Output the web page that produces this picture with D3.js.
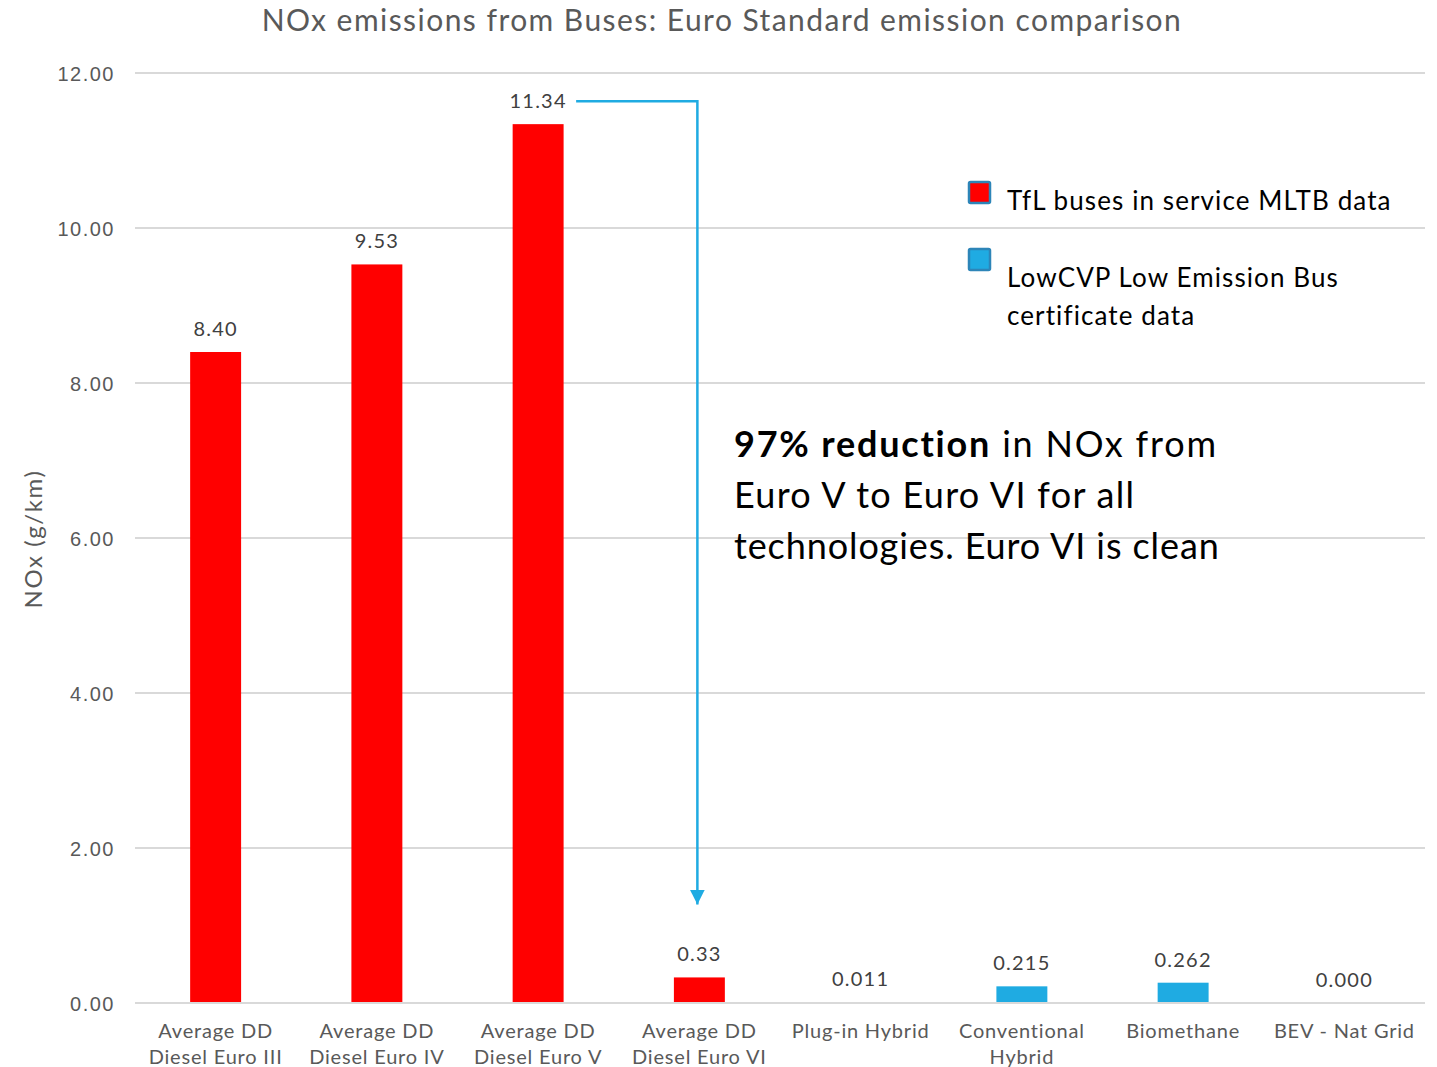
<!DOCTYPE html>
<html>
<head>
<meta charset="utf-8">
<script src="https://cdn.jsdelivr.net/npm/d3@7"></script>
<style>
  body { margin: 0; background: #fff; }
  svg { display: block; font-family: Lato, "Noto Sans", sans-serif; }
</style>
</head>
<body>
<div id="chart"></div>
<script>
// chart data
const categories = [
  ["Average DD", "Diesel Euro III"],
  ["Average DD", "Diesel Euro IV"],
  ["Average DD", "Diesel Euro V"],
  ["Average DD", "Diesel Euro VI"],
  ["Plug-in Hybrid"],
  ["Conventional", "Hybrid"],
  ["Biomethane"],
  ["BEV - Nat Grid"]
]
const values = [8.40, 9.53, 11.34, 0.33, 0.011, 0.215, 0.262, 0.000]
const valueLabels = ["8.40", "9.53", "11.34", "0.33", "0.011", "0.215", "0.262", "0.000"]
const sources = ["tfl", "tfl", "tfl", "tfl", "lowcvp", "lowcvp", "lowcvp", "lowcvp"]
const yTicks = [0, 2, 4, 6, 8, 10, 12]
const legendItems = [
  { key: "tfl", lines: ["TfL buses in service MLTB data"] },
  { key: "lowcvp", lines: ["LowCVP Low Emission Bus", "certificate data"] }
]

const W = 1437, H = 1067
const margin = { top: 73, right: 12, bottom: 64, left: 135 }
const colors = { tfl: "#ff0000", lowcvp: "#1fabe2" }
const grey = "#595959"

const svg = d3.select("#chart").append("svg")
  .attr("width", W).attr("height", H)

const x = d3.scaleBand()
  .domain(d3.range(categories.length))
  .range([margin.left, W - margin.right])
  .paddingInner(0.684).paddingOuter(0.342)

const y = d3.scaleLinear()
  .domain([0, 12])
  .range([H - margin.bottom, margin.top])

// gridlines
svg.append("g")
  .selectAll("line").data(yTicks.filter(d => d > 0)).join("line")
  .attr("x1", margin.left).attr("x2", W - margin.right)
  .attr("y1", d => y(d)).attr("y2", d => y(d))
  .attr("stroke", "#d9d9d9").attr("stroke-width", 2)

// y axis labels
const yAxis = svg.append("g")
  .attr("transform", `translate(${margin.left - 20},0)`)
  .call(d3.axisLeft(y).tickValues(yTicks).tickFormat(d3.format(".2f")).tickSize(0))
yAxis.select(".domain").remove()
yAxis.selectAll("text")
  .attr("fill", grey).style("font-size", "20px").style("letter-spacing", "1.5px")
  .attr("x", 0).attr("dy", "0.35em")

svg.append("text")
  .attr("transform", `translate(42,${(y(12) + y(0)) / 2 + 1}) rotate(-90)`)
  .attr("text-anchor", "middle")
  .attr("fill", grey).style("font-size", "24px").style("letter-spacing", "1.6px")
  .text("NOx (g/km)")

// bars
svg.append("g")
  .selectAll("rect").data(values).join("rect")
  .attr("x", (d, i) => x(i))
  .attr("width", x.bandwidth())
  .attr("y", d => y(d))
  .attr("height", d => y(0) - y(d))
  .attr("fill", (d, i) => colors[sources[i]])

// baseline on top of bars
svg.append("line")
  .attr("x1", margin.left).attr("x2", W - margin.right)
  .attr("y1", y(0)).attr("y2", y(0))
  .attr("stroke", "#d9d9d9").attr("stroke-width", 2)

// value labels
svg.append("g")
  .selectAll("text").data(values).join("text")
  .attr("x", (d, i) => x(i) + x.bandwidth() / 2)
  .attr("y", d => y(d) - 16)
  .attr("text-anchor", "middle")
  .attr("fill", "#404040").style("font-size", "20px").style("letter-spacing", "1.2px")
  .text((d, i) => valueLabels[i])

// category labels
const cat = svg.append("g")
  .selectAll("text").data(categories).join("text")
  .attr("x", (d, i) => x(i) + x.bandwidth() / 2)
  .attr("y", 1038)
  .attr("text-anchor", "middle")
  .attr("fill", grey).style("font-size", "20px").style("letter-spacing", "0.8px")
cat.selectAll("tspan").data(d => d).join("tspan")
  .attr("x", function () { return this.parentNode.getAttribute("x") })
  .attr("dy", (d, i) => i ? 26 : 0)
  .text(d => d)

// title
svg.append("text")
  .attr("x", 722).attr("y", 31)
  .attr("text-anchor", "middle")
  .attr("fill", grey).style("font-size", "30px").style("letter-spacing", "1.45px")
  .text("NOx emissions from Buses: Euro Standard emission comparison")

// legend
const legend = svg.append("g")
legendItems.forEach((it, k) => {
  const top = k === 0 ? 182 : 249
  legend.append("rect")
    .attr("x", 969).attr("y", top).attr("width", 21).attr("height", 21)
    .attr("fill", colors[it.key]).attr("stroke", "#2d85b8").attr("stroke-width", 2.5)
    .attr("rx", 1.5)
  const t = legend.append("text")
    .attr("x", 1007).attr("y", k === 0 ? 210 : 287)
    .attr("fill", "#000").style("font-size", "26px").style("letter-spacing", "1.1px")
  t.selectAll("tspan").data(it.lines).join("tspan")
    .attr("x", 1007).attr("dy", (d, i) => i ? 38 : 0)
    .text(d => d)
})

// annotation arrow from Euro V to Euro VI
const xV = x(2) + x.bandwidth() / 2, xVI = x(3) + x.bandwidth() / 2
const arrowY = y(values[2]) - 23
svg.append("defs").append("marker")
  .attr("id", "arr").attr("viewBox", "0 0 10 10")
  .attr("refX", 10).attr("refY", 5)
  .attr("markerWidth", 6).attr("markerHeight", 6)
  .attr("markerUnits", "strokeWidth").attr("orient", "auto")
  .append("path").attr("d", "M0,0L10,5L0,10Z").attr("fill", "#1fabe2")
svg.append("path")
  .attr("d", `M${xV + 38},${arrowY}H${xVI - 2}V${y(1.27)}`)
  .attr("fill", "none").attr("stroke", "#1fabe2").attr("stroke-width", 2.5)
  .attr("marker-end", "url(#arr)")

const note = svg.append("text")
  .attr("x", 734).attr("y", 457)
  .attr("fill", "#000").style("font-size", "36px")
note.append("tspan").attr("font-weight", "bold").style("letter-spacing", "1.8px").text("97% reduction")
note.append("tspan").style("letter-spacing", "1.8px").text(" in NOx from")
note.append("tspan").attr("x", 734).attr("dy", 51).style("letter-spacing", "1.3px").text("Euro V to Euro VI for all")
note.append("tspan").attr("x", 734).attr("dy", 51).style("letter-spacing", "0.9px").text("technologies. Euro VI is clean")
</script>
</body>
</html>
